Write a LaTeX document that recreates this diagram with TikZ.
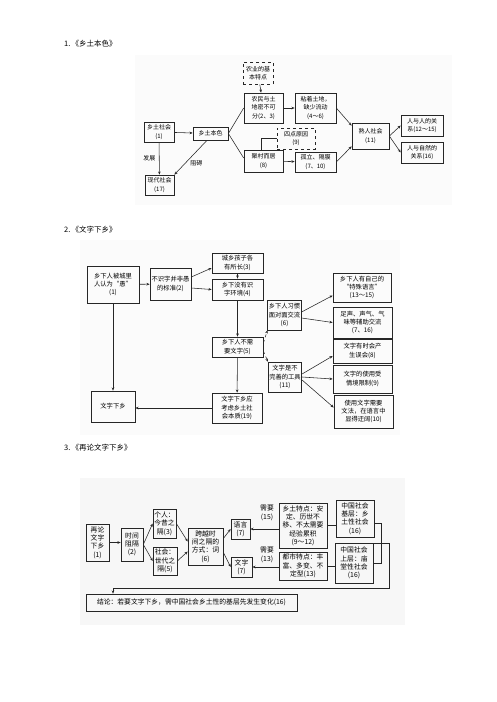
\documentclass[tikz,border=0pt]{standalone}
\usepackage{fontspec}
\setmainfont{Noto Sans CJK SC}
\usetikzlibrary{arrows.meta}
\newcommand\fsA{\fontsize{6}{8.3}\selectfont}
\newcommand\fsB{\fontsize{6.3}{8.3}\selectfont}
\newcommand\fsC{\fontsize{6.8}{8.3}\selectfont}
\begin{document}
\begin{tikzpicture}[x=1pt,y=-1pt,
  box/.style={draw=black!85, line width=0.65pt, align=center, inner sep=1pt},
  dbox/.style={box, dashed},
  arr/.style={-{Stealth[length=3.2pt,width=2.6pt]}, line width=0.55pt, draw=black!85},
  ln/.style={line width=0.55pt, draw=black!85},
  lbl/.style={inner sep=0.5pt, align=center},
  ttl/.style={font=\fontsize{7.5}{9}\selectfont, anchor=west, inner sep=0pt}]
\useasboundingbox (0,0) rectangle (496,702);
\fill[white] (0,0) rectangle (496,702);
\fill[black!1.5] (135,55) rectangle (452,205);
\fill[black!1.5] (80,240) rectangle (400,435);
\fill[black!3] (80,478) rectangle (405,625);

% titles
\node[ttl] (t1) at (64,44) {1.\,《乡土本色》};
\node[ttl] (t2) at (64,230) {2.\,《文字下乡》};
\node[ttl] (t3) at (64,448) {3.\,《再论文字下乡》};

% ---------------- diagram 1
\begin{scope}[every node/.append style={font=\fsA}]
\node[box,minimum width=30pt,minimum height=20pt] (a1) at (159,132) {乡土社会\\(1)};
\node[box,minimum width=35pt,minimum height=13pt] (a2) at (210.5,133.5) {乡土本色};
\node[box,minimum width=29pt,minimum height=20pt] (a17) at (159.5,185) {现代社会\\(17)};
\node[dbox,minimum width=30pt,minimum height=22pt] (ad) at (258,73) {农业的基\\本特点};
\node[box,minimum width=39pt,minimum height=30pt] (a23) at (263.5,108) {农民与土\\地密不可\\分(2、3)};
\node[box,minimum width=41pt,minimum height=30pt] (a46) at (315.5,108) {粘着土地，\\缺少流动\\(4～6)};
\node[dbox,minimum width=38pt,minimum height=21pt] (a9) at (296,138.5) {四点原因\\(9)};
\node[box,minimum width=39pt,minimum height=22pt] (a8) at (263.5,161) {聚村而居\\(8)};
\node[box,minimum width=41pt,minimum height=20pt] (a710) at (315.5,162) {孤立、隔膜\\(7、10)};
\node[box,minimum width=37pt,minimum height=26pt] (a11) at (370.5,136) {熟人社会\\(11)};
\node[box,minimum width=42pt,minimum height=21pt] (a12) at (422,125.5) {人与人的关\\系(12～15)};
\node[box,minimum width=42pt,minimum height=21pt] (a16) at (422,152.5) {人与自然的\\关系(16)};

\draw[arr] (a1) -- (a2);
\draw[arr] (a1) -- node[lbl,left=3pt]{发展} (a17);
\draw[arr] ([xshift=-3.5pt]a2.south) -- node[lbl,pos=0.55,below right=0.5pt]{阻碍} (a17.north east);
\draw[ln] (a2.east) -- (a23.west);
\draw[ln] (a2.east) -- ([yshift=3pt]a8.west);
\draw[arr] (ad) -- (a23);
\draw[arr] (a23) -- (a46);
\draw[ln] ([xshift=-2.5pt]a8.north) |- (a9.west);
\draw[arr] (a8) -- (a710);
\draw[arr] (a46.east) -- ([yshift=-3pt]a11.north west);
\draw[arr] (a710.east) -- ([yshift=3pt]a11.south west);
\draw[arr] (a11.east) -- (a12.west);
\draw[arr] (a11.east) -- (a16.west);
\end{scope}

% ---------------- diagram 2
\begin{scope}[every node/.append style={font=\fsB}]
\node[box,minimum width=52pt,minimum height=37pt] (b1) at (113,284.5) {乡下人被城里\\人认为“愚”\\(1)};
\node[box,minimum width=41pt,minimum height=32pt] (b2) at (170.5,284) {不识字并非愚\\的标准(2)};
\node[box,minimum width=51pt,minimum height=20pt] (b3) at (237.5,263) {城乡孩子各\\有所长(3)};
\node[box,minimum width=51pt,minimum height=21pt] (b4) at (237.5,289.5) {乡下没有识\\字环境(4)};
\node[box,minimum width=51pt,minimum height=20pt] (b5) at (237.5,347) {乡下人不需\\要文字(5)};
\node[box,minimum width=50pt,minimum height=30pt] (b19) at (237,408) {文字下乡应\\考虑乡土社\\会本质(19)};
\node[box,minimum width=44pt,minimum height=31pt] (bw) at (113,406.5) {文字下乡};
\node[box,minimum width=30pt,minimum height=30pt] (b6) at (284.5,315) {乡下人习惯\\面对面交流\\(6)};
\node[box,minimum width=30pt,minimum height=30pt] (b11) at (285,377) {文字是不\\完善的工具\\(11)};
\node[box,minimum width=58pt,minimum height=29pt] (b13) at (362,287.5) {乡下人有自己的\\“特殊语言”\\(13～15)};
\node[box,minimum width=59pt,minimum height=31pt] (b7) at (362.5,322.5) {足声、声气、气\\味等辅助交流\\(7、16)};
\node[box,minimum width=59pt,minimum height=24pt] (b8) at (362.5,351) {文字有时会产\\生误会(8)};
\node[box,minimum width=59pt,minimum height=28pt] (b9) at (362.5,379) {文字的使用受\\情境限制(9)};
\node[box,minimum width=59pt,minimum height=33pt] (b10) at (363.5,411.5) {使用文字需要\\文法，在语言中\\显得迂阔(10)};

\draw[arr] (b1) -- (b2);
\draw[arr] ([yshift=7pt]b2.east) -- ([yshift=-5pt]b3.west);
\draw[arr] ([yshift=-4pt]b2.east) -- (b4.west);
\draw[arr] (b3) -- (b4);
\draw[arr] (b4) -- (b5);
\draw[arr] (b5) -- (b19);
\draw[arr] (b19.west) -- (b19.west -| bw.east);
\draw[arr] (b1) -- (bw);
\draw[arr,dashed] ([yshift=4pt]b5.east) -- (b6.south west);
\draw[arr,dashed] ([yshift=-4pt]b5.east) -- (b11.north west);
\draw[arr] ([yshift=3pt]b6.east) -- ([yshift=-8pt]b13.west);
\draw[arr] ([yshift=-3pt]b6.east) -- (b7.west);
\draw[arr] ([yshift=3pt]b11.east) -- ([yshift=-5pt]b8.west);
\draw[arr] (b11.east) -- (b9.west);
\draw[arr] ([yshift=-3pt]b11.east) -- ([yshift=4pt]b10.west);
\end{scope}

% ---------------- diagram 3
\begin{scope}[every node/.append style={font=\fsC}]
\node[box,minimum width=23pt,minimum height=37pt] (c1) at (97.5,542.5) {再论\\文字\\下乡\\(1)};
\node[box,minimum width=22pt,minimum height=33pt] (c2) at (132,544.5) {时间\\阻隔\\(2)};
\node[box,minimum width=23pt,minimum height=29pt] (c3) at (164.5,523.5) {个人：\\今昔之\\隔(3)};
\node[box,minimum width=24pt,minimum height=28pt] (c5) at (165,561) {社会：\\世代之\\隔(5)};
\node[box,minimum width=35pt,minimum height=37pt] (c6) at (205.5,546.5) {跨越时\\间之隔的\\方式：词\\(6)};
\node[box,minimum width=19pt,minimum height=20pt] (c7a) at (240.5,529) {语言\\(7)};
\node[box,minimum width=21pt,minimum height=20pt] (c7b) at (241.5,567) {文字\\(7)};
\node[box,minimum width=48pt,minimum height=45pt] (c9) at (303,525.5) {乡土特点：安\\定、历世不\\移、不太需要\\经验累积\\(9～12)};
\node[box,minimum width=48pt,minimum height=28pt] (c13) at (303,566) {都市特点：丰\\富、多变、不\\定型(13)};
\node[box,minimum width=38pt,minimum height=37pt] (c16a) at (355,518.5) {中国社会\\基层：乡\\土性社会\\(16)};
\node[box,minimum width=38pt,minimum height=40pt] (c16b) at (354,563) {中国社会\\上层：庙\\堂性社会\\(16)};
\node[box,minimum width=211pt,minimum height=17pt] (cc) at (191.5,602.5) {结论：若要文字下乡，需中国社会乡土性的基层先发生变化(16)};
\node[lbl] (n15) at (267,513) {需要\\(15)};
\node[lbl] (n13) at (267,555) {需要\\(13)};

\draw[arr] (c1.east) -- (c1.east -| c2.west);
\draw[arr] (c2.east) -- (c3.west);
\draw[arr] (c2.east) -- (c5.west);
\draw[arr] (c3.east) -- ([yshift=5pt]c6.west);
\draw[arr] (c5.east) -- ([yshift=-5pt]c6.west);
\draw[arr] ([yshift=8pt]c6.east) -- (c7a.west);
\draw[arr] ([yshift=-6pt]c6.east) -- (c7b.west);
\draw[arr] (c7a.east -| c9.west) -- (c7a.east);
\draw[arr] (c7b.east -| c13.west) -- (c7b.east);
\draw[ln] (c9.east) -- (c9.east -| c16a.west);
\draw[ln] (c13.east) -- (c13.east -| c16b.west);
\draw[ln] ([yshift=-4.5pt]c16a.east) -- ++(7,0) |- (c16b.east);
\coordinate (cj) at (113,588);
\draw[arr] ([yshift=20pt]c16b.east) -- ++(16,0) |- (cj) -- (cj |- cc.north);
\end{scope}
\end{tikzpicture}
\end{document}
